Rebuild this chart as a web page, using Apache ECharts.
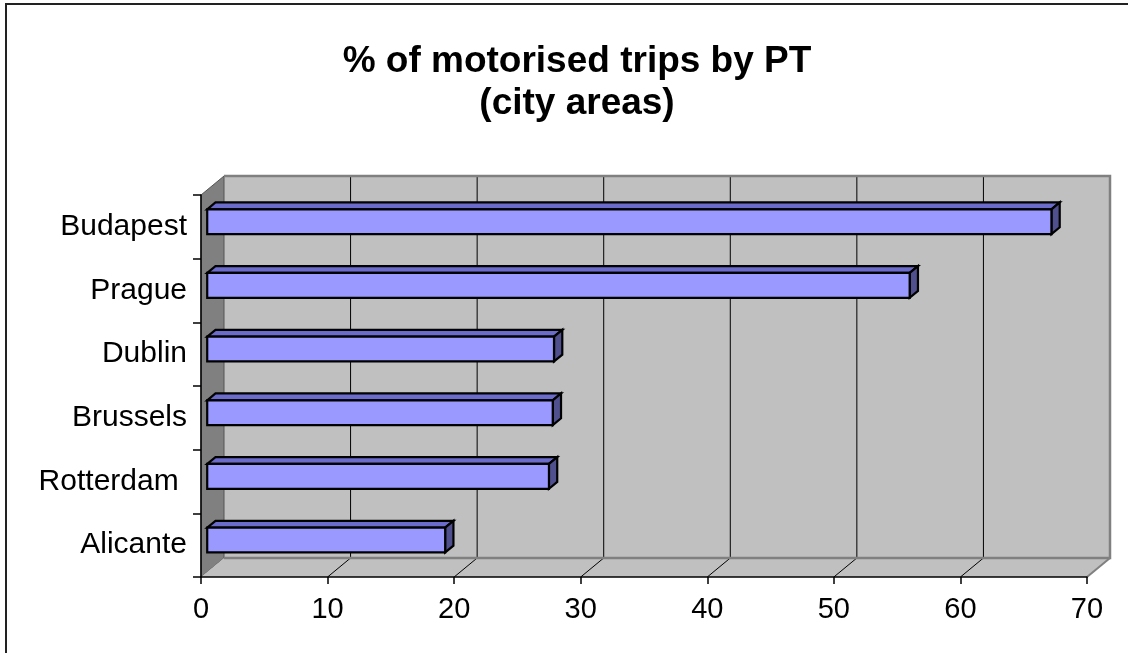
<!DOCTYPE html>
<html>
<head>
<meta charset="utf-8">
<script src="https://cdn.jsdelivr.net/npm/echarts@6/dist/echarts.min.js"></script>
<style>
  html, body { margin: 0; padding: 0; background: #fff; }
  #chart { width: 1128px; height: 653px; }
</style>
</head>
<body>
<div id="chart"></div>
<script>
// Share of motorised trips made by public transport, city areas (%)
const cities = ['Budapest', 'Prague', 'Dublin', 'Brussels', 'Rotterdam ', 'Alicante'];
const ptShare = [66.7, 55.5, 27.4, 27.3, 27.0, 18.8];
const xTicks = [0, 10, 20, 30, 40, 50, 60, 70];

const titleText = '% of motorised trips by PT\n(city areas)';
const FONT = '"Liberation Sans", Arial, sans-serif';

// Pseudo-3D look: depth vector from the front plane to the back wall
const DEPTH = [23, -19];
const BAR_FRONT = 0.27;   // bar front face, fraction of depth
const BAR_BACK = 0.63;    // bar back face, fraction of depth
const BAR_RATIO = 0.39;   // bar thickness as a share of the category band

const WALL = '#C0C0C0';
const SIDE_WALL = '#808080';
const EDGE = '#808080';
const BAR_FRONT_COLOR = '#9999FF';
const BAR_TOP_COLOR = '#6B6BCB';
const BAR_SIDE_COLOR = '#50508F';

const chart = echarts.init(document.getElementById('chart'), null, { renderer: 'canvas' });

// Walls, floor and gridlines of the 3D box, built from the grid and the value axis
function renderBox(params, api) {
  const cs = params.coordSys;
  const x0 = cs.x, x1 = cs.x + cs.width;
  const yT = cs.y, yB = cs.y + cs.height;
  const dx = DEPTH[0], dy = DEPTH[1];
  const children = [];
  // back wall
  children.push({
    type: 'rect',
    shape: { x: x0 + dx, y: yT + dy, width: x1 - x0, height: yB - yT },
    style: { fill: WALL, stroke: null }
  });
  // left wall
  children.push({
    type: 'polygon',
    shape: { points: [[x0, yT], [x0 + dx, yT + dy], [x0 + dx, yB + dy], [x0, yB]] },
    style: { fill: SIDE_WALL, stroke: '#555', lineWidth: 1 }
  });
  // floor
  children.push({
    type: 'polygon',
    shape: { points: [[x0, yB], [x0 + dx, yB + dy], [x1 + dx, yB + dy], [x1, yB]] },
    style: { fill: WALL, stroke: null }
  });
  // gridlines on the back wall and across the floor
  xTicks.forEach(function (t) {
    if (t === xTicks[0] || t === xTicks[xTicks.length - 1]) return;
    const px = api.coord([t, 0])[0];
    children.push({
      type: 'line',
      shape: { x1: px + dx, y1: yT + dy, x2: px + dx, y2: yB + dy },
      style: { stroke: '#000', lineWidth: 1 }
    });
    children.push({
      type: 'line',
      shape: { x1: px, y1: yB, x2: px + dx, y2: yB + dy },
      style: { stroke: '#000', lineWidth: 1 }
    });
  });
  // wall outlines
  children.push({
    type: 'polyline',
    shape: { points: [[x0 + dx, yT + dy], [x1 + dx, yT + dy], [x1 + dx, yB + dy], [x0 + dx, yB + dy]] },
    style: { stroke: EDGE, lineWidth: 2.5, fill: null }
  });
  children.push({
    type: 'line',
    shape: { x1: x1, y1: yB, x2: x1 + dx, y2: yB + dy },
    style: { stroke: EDGE, lineWidth: 2 }
  });
  return { type: 'group', children: children };
}

// One 3D bar: front face, top face and right-hand end
function renderBar(params, api) {
  const idx = api.value(0);
  const val = api.value(1);
  const p0 = api.coord([0, idx]);
  const p1 = api.coord([val, idx]);
  const band = api.size([0, 1])[1];
  const h = band * BAR_RATIO;
  const fx = DEPTH[0] * BAR_FRONT, fy = DEPTH[1] * BAR_FRONT;
  const ddx = DEPTH[0] * (BAR_BACK - BAR_FRONT), ddy = DEPTH[1] * (BAR_BACK - BAR_FRONT);
  const xa = p0[0] + fx, xb = p1[0] + fx;
  const yt = p0[1] + fy - h / 2, yb = yt + h;
  const line = { stroke: '#000', lineWidth: 2.2, lineJoin: 'miter' };
  return {
    type: 'group',
    children: [
      {
        type: 'polygon',
        shape: { points: [[xa, yt], [xb, yt], [xb + ddx, yt + ddy], [xa + ddx, yt + ddy]] },
        style: Object.assign({ fill: BAR_TOP_COLOR }, line)
      },
      {
        type: 'polygon',
        shape: { points: [[xb, yt], [xb + ddx, yt + ddy], [xb + ddx, yb + ddy], [xb, yb]] },
        style: Object.assign({ fill: BAR_SIDE_COLOR }, line)
      },
      {
        type: 'rect',
        shape: { x: xa, y: yt, width: xb - xa, height: h },
        style: Object.assign({ fill: BAR_FRONT_COLOR }, line)
      }
    ]
  };
}

const option = {
  backgroundColor: '#fff',
  animation: false,
  title: {
    text: titleText,
    left: 572,
    top: 36,
    textAlign: 'center',
    textStyle: {
      fontFamily: FONT,
      fontSize: 37,
      fontWeight: 'bold',
      color: '#000',
      lineHeight: 42
    }
  },
  graphic: [{
    type: 'rect',
    shape: { x: 6, y: 4, width: 1200, height: 700 },
    style: { fill: null, stroke: '#222', lineWidth: 2 },
    silent: true,
    z: 100
  }],
  grid: { left: 201, right: 41, top: 195, bottom: 76, containLabel: false },
  xAxis: {
    type: 'value',
    min: xTicks[0],
    max: xTicks[xTicks.length - 1],
    interval: 10,
    z: 10,
    axisLine: { show: true, lineStyle: { color: '#000', width: 1.5 } },
    axisTick: { show: true, length: 7, lineStyle: { color: '#000', width: 1.5 } },
    splitLine: { show: false },
    axisLabel: { color: '#000', fontSize: 29, fontFamily: FONT, margin: 18 }
  },
  yAxis: {
    type: 'category',
    data: cities,
    inverse: true,
    z: 10,
    axisLine: { show: true, lineStyle: { color: '#000', width: 1.5 } },
    axisTick: { show: true, length: 8, alignWithLabel: false, lineStyle: { color: '#000', width: 1.5 } },
    splitLine: { show: false },
    axisLabel: { color: '#000', fontSize: 30, fontFamily: FONT, margin: 14 }
  },
  series: [
    {
      type: 'custom',
      name: 'box',
      coordinateSystem: 'cartesian2d',
      renderItem: renderBox,
      data: [[cities[0], 0]],
      encode: { x: 1, y: 0 },
      silent: true,
      z: 1
    },
    {
      type: 'custom',
      name: '% of motorised trips by PT',
      coordinateSystem: 'cartesian2d',
      renderItem: renderBar,
      data: cities.map(function (c, i) { return [c, ptShare[i]]; }),
      encode: { x: 1, y: 0 },
      z: 3
    }
  ]
};

chart.setOption(option);
</script>
</body>
</html>
